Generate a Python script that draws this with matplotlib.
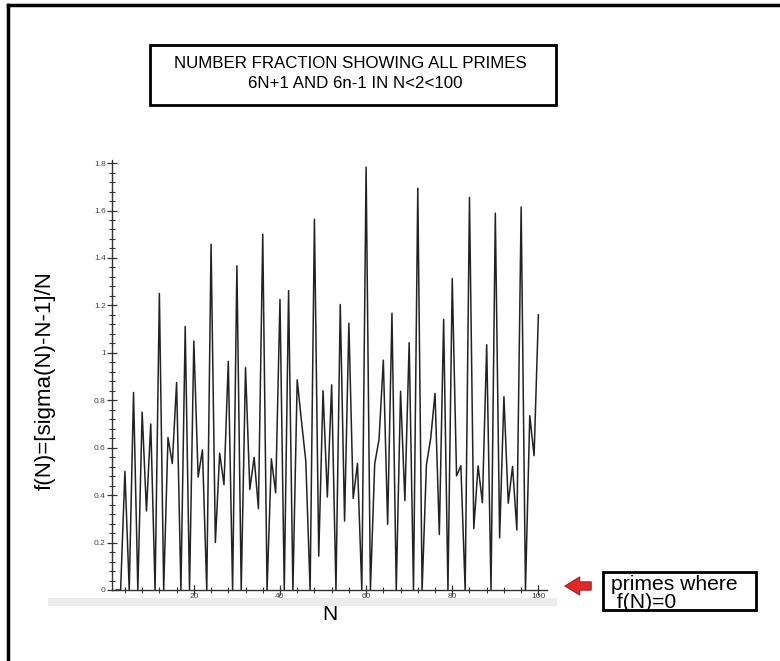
import numpy as np
import matplotlib
matplotlib.use('Agg')
import matplotlib.pyplot as plt
import matplotlib.patches as patches
from matplotlib.ticker import MultipleLocator

plt.rcParams['font.family'] = ['Liberation Sans', 'DejaVu Sans']

# N = 2 .. 100
n_values = list(range(2, 101))
# f(N) = [sigma(N) - N - 1] / N
f_values = [
    0.0, 0.0, 0.5, 0.0, 0.833, 0.0, 0.75, 0.333, 0.7, 0.0,            # 2-11
    1.25, 0.0, 0.643, 0.533, 0.875, 0.0, 1.111, 0.0, 1.05, 0.476,      # 12-21
    0.591, 0.0, 1.458, 0.2, 0.577, 0.444, 0.964, 0.0, 1.367, 0.0,      # 22-31
    0.938, 0.424, 0.559, 0.343, 1.5, 0.0, 0.553, 0.41, 1.225, 0.0,     # 32-41
    1.262, 0.0, 0.886, 0.711, 0.543, 0.0, 1.563, 0.143, 0.84, 0.392,   # 42-51
    0.865, 0.0, 1.204, 0.291, 1.125, 0.386, 0.534, 0.0, 1.783, 0.0,    # 52-61
    0.532, 0.635, 0.969, 0.277, 1.167, 0.0, 0.838, 0.377, 1.043, 0.0,  # 62-71
    1.694, 0.0, 0.527, 0.64, 0.829, 0.234, 1.141, 0.0, 1.313, 0.481,   # 72-81
    0.524, 0.0, 1.655, 0.259, 0.523, 0.368, 1.034, 0.0, 1.589, 0.22,   # 82-91
    0.815, 0.366, 0.521, 0.253, 1.615, 0.0, 0.735, 0.566, 1.16,        # 92-100
]

title_lines = ['NUMBER FRACTION SHOWING ALL PRIMES', '6N+1 AND 6n-1 IN N<2<100']
note_lines = ['primes where', ' f(N)=0']

W, H = 780, 661
fig = plt.figure(figsize=(W / 100, H / 100), dpi=100)


def fx(px):
    return px / W


def fy(py):
    return 1 - py / H


ax = fig.add_axes([fx(112), fy(590), fx(547) - fx(112), fy(160) - fy(590)])
ax.plot(n_values, f_values, color='#222222', lw=1.1)
ax.set_xlim(1, 102)
ax.set_ylim(0, 1.813)

for s in ['top', 'right']:
    ax.spines[s].set_visible(False)
for s in ['left', 'bottom']:
    ax.spines[s].set_color('#333333')
    ax.spines[s].set_linewidth(1.0)

ax.xaxis.set_major_locator(MultipleLocator(20))
ax.xaxis.set_minor_locator(MultipleLocator(4))
ax.yaxis.set_major_locator(MultipleLocator(0.2))
ax.yaxis.set_minor_locator(MultipleLocator(0.04))
ax.set_yticks(np.arange(0, 1.81, 0.2))
ax.set_yticklabels(['0', '0.2', '0.4', '0.6', '0.8', '1', '1.2', '1.4', '1.6', '1.8'])
ax.tick_params(which='major', direction='inout', length=7, width=0.9,
               color='#333333', labelsize=6, labelcolor='#444444', pad=1)
ax.tick_params(axis='x', which='major', pad=-1)
ax.tick_params(which='minor', direction='inout', length=5, width=0.8, color='#333333')

# light grey band under the x axis
fig.patches.append(patches.Rectangle((fx(48), fy(606)), fx(557) - fx(48), fy(598) - fy(606),
                                     transform=fig.transFigure, fc='#ececec', ec='none',
                                     zorder=1))

fig.text(fx(330), fy(614), 'N', fontsize=15, ha='center', va='center')
fig.text(fx(45), fy(381), 'f(N)=[sigma(N)-N-1]/N', fontsize=16, rotation=90,
         ha='center', va='center')

# title box
fig.patches.append(patches.Rectangle((fx(150), fy(105)), fx(556) - fx(150), fy(45) - fy(105),
                                     transform=fig.transFigure, fc='white', ec='black',
                                     lw=2, zorder=2))
fig.text(fx(350), fy(63), title_lines[0], fontsize=12.2, ha='center', va='center', zorder=3)
fig.text(fx(355), fy(84), title_lines[1], fontsize=12.2, ha='center', va='center', zorder=3)

# note box
fig.patches.append(patches.Rectangle((fx(603), fy(610)), fx(756) - fx(603), fy(572) - fy(610),
                                     transform=fig.transFigure, fc='white', ec='black',
                                     lw=2, zorder=2))
fig.text(fx(611), fy(584), note_lines[0], fontsize=15.2, ha='left', va='center', zorder=3)
fig.text(fx(611), fy(602), note_lines[1], fontsize=15.2, ha='left', va='center', zorder=3)

# red arrow
arr = patches.FancyArrowPatch((fx(594), fy(586)), (fx(562), fy(586)), transform=fig.transFigure,
                              arrowstyle='simple,head_length=0.9,head_width=1.1,tail_width=0.5',
                              mutation_scale=12, fc='#e02828', ec='#8a1010', lw=0.6, zorder=3)
fig.patches.append(arr)

# outer frame
fig.lines.append(plt.Line2D([fx(8), fx(8)], [0, fy(5)], transform=fig.transFigure,
                            color='black', lw=2.5))
fig.lines.append(plt.Line2D([fx(8), 1], [fy(5), fy(5)], transform=fig.transFigure,
                            color='black', lw=2.5))

fig.savefig('out.png', dpi=100)
